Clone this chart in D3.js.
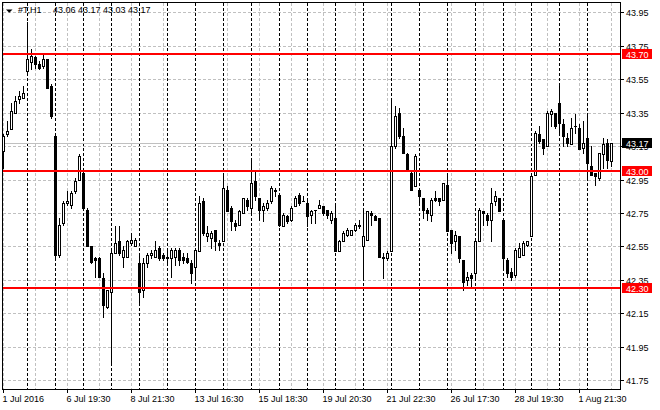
<!DOCTYPE html>
<html><head><meta charset="utf-8">
<script src="https://cdn.jsdelivr.net/npm/d3@7"></script>
<style>html,body{margin:0;padding:0;background:#fff;overflow:hidden}</style>
</head><body>
<svg id="c" width="660" height="410" xmlns="http://www.w3.org/2000/svg"></svg>
<script>
const symbol = "#T,H1";
const days = ["1 Jul","5 Jul","6 Jul","7 Jul","8 Jul","11 Jul","12 Jul","13 Jul","14 Jul","15 Jul","18 Jul","19 Jul","20 Jul","21 Jul","22 Jul","25 Jul","26 Jul","27 Jul","28 Jul","29 Jul","1 Aug","2 Aug"];
const hours = ["16:30","17:30","18:30","19:30","20:30","21:30","22:30"];
const open = [43.08,43.12,43.22,43.25,43.35,43.43,43.44,43.60,43.65,43.68,43.64,43.63,43.67,43.51,43.21,42.50,42.69,42.81,42.80,42.88,42.95,42.99,42.77,42.55,42.48,42.48,42.36,42.19,42.28,42.51,42.58,42.49,42.49,42.57,42.55,42.45,42.29,42.45,42.50,42.49,42.54,42.50,42.48,42.48,42.49,42.53,42.49,42.48,42.45,42.43,42.52,42.82,42.61,42.60,42.65,42.57,42.58,42.89,42.78,42.69,42.68,42.75,42.83,42.78,42.94,42.84,42.77,42.78,42.82,42.88,42.86,42.67,42.73,42.71,42.79,42.86,42.82,42.81,42.74,42.77,42.78,42.79,42.77,42.71,42.72,42.52,42.58,42.62,42.62,42.65,42.67,42.55,42.59,42.75,42.73,42.72,42.48,42.48,42.52,43.15,43.35,43.21,43.10,42.99,42.91,42.89,42.84,42.77,42.74,42.84,42.84,42.83,42.92,42.65,42.58,42.61,42.47,42.35,42.38,42.39,42.58,42.76,42.74,42.71,42.82,42.84,42.71,42.47,42.40,42.38,42.49,42.50,42.56,42.61,42.98,43.22,43.19,43.15,43.34,43.35,43.41,43.28,43.20,43.16,43.27,43.26,43.14,43.20,43.03,42.99,42.96,43.10,43.17,43.06];
const high = [43.14,43.22,43.30,43.41,43.45,43.48,43.51,43.89,43.73,43.69,43.66,43.70,43.67,43.52,43.21,42.72,42.82,42.88,42.88,42.96,43.10,43.00,42.78,42.55,42.49,42.49,42.39,42.29,42.53,42.67,42.67,42.55,42.59,42.63,42.60,42.50,42.48,42.51,42.53,42.58,42.55,42.51,42.52,42.54,42.54,42.54,42.51,42.51,42.47,42.54,42.85,42.84,42.67,42.64,42.65,42.59,42.97,42.91,42.79,42.71,42.77,42.84,42.84,43.08,43.00,42.84,42.81,42.83,42.91,42.90,42.87,42.75,42.74,42.79,42.85,42.87,42.85,42.82,42.77,42.77,42.83,42.79,42.77,42.76,42.80,42.59,42.64,42.66,42.65,42.69,42.71,42.77,42.76,42.76,42.74,42.72,42.51,42.52,43.44,43.39,43.38,43.26,43.11,43.00,43.10,42.89,42.84,42.78,42.84,42.88,42.84,42.93,42.97,42.65,42.64,42.61,42.47,42.40,42.39,42.58,42.78,42.76,42.75,42.90,42.88,42.84,42.72,42.48,42.42,42.54,42.57,42.58,42.58,42.97,43.24,43.27,43.19,43.36,43.37,43.35,43.51,43.31,43.23,43.32,43.34,43.28,43.30,43.33,43.15,42.99,43.11,43.20,43.19,43.17];
const low = [43.02,43.02,43.21,43.25,43.35,43.41,43.44,43.58,43.61,43.62,43.61,43.62,43.50,43.32,42.49,42.49,42.68,42.80,42.78,42.87,42.95,42.77,42.55,42.45,42.37,42.37,42.13,42.18,41.84,42.51,42.50,42.43,42.49,42.56,42.55,42.20,42.25,42.43,42.48,42.49,42.47,42.47,42.45,42.37,42.44,42.44,42.45,42.45,42.33,42.35,42.52,42.62,42.58,42.54,42.53,42.53,42.58,42.76,42.65,42.65,42.68,42.75,42.77,42.75,42.83,42.71,42.70,42.77,42.81,42.85,42.67,42.67,42.69,42.70,42.79,42.80,42.82,42.67,42.69,42.69,42.78,42.74,42.72,42.69,42.52,42.52,42.58,42.61,42.62,42.64,42.66,42.35,42.59,42.68,42.71,42.49,42.36,42.47,42.52,43.14,43.20,43.11,43.00,42.89,42.91,42.80,42.72,42.71,42.70,42.82,42.80,42.83,42.64,42.51,42.53,42.46,42.29,42.32,42.30,42.36,42.58,42.68,42.68,42.58,42.80,42.76,42.42,42.37,42.35,42.37,42.49,42.50,42.55,42.61,42.98,43.17,43.10,43.15,43.27,43.26,43.23,43.15,43.15,43.16,43.23,43.13,43.11,42.95,42.98,42.92,42.95,43.02,43.02,43.03];
const close = [43.12,43.21,43.24,43.36,43.42,43.45,43.47,43.67,43.69,43.64,43.62,43.67,43.50,43.33,42.50,42.68,42.81,42.82,42.87,42.94,43.09,42.78,42.55,42.46,42.47,42.37,42.20,42.29,42.51,42.57,42.51,42.53,42.58,42.59,42.59,42.28,42.45,42.50,42.51,42.53,42.48,42.48,42.49,42.53,42.53,42.47,42.47,42.46,42.39,42.53,42.81,42.63,42.63,42.63,42.58,42.56,42.90,42.76,42.70,42.67,42.76,42.84,42.79,42.93,42.85,42.77,42.79,42.81,42.90,42.89,42.68,42.74,42.70,42.78,42.84,42.81,42.82,42.73,42.76,42.77,42.80,42.75,42.74,42.75,42.52,42.58,42.63,42.65,42.65,42.68,42.68,42.61,42.76,42.74,42.71,42.49,42.49,42.51,43.15,43.33,43.21,43.11,43.01,42.89,43.09,42.85,42.77,42.75,42.83,42.83,42.82,42.93,42.64,42.57,42.62,42.48,42.34,42.37,42.36,42.58,42.77,42.75,42.71,42.81,42.85,42.76,42.48,42.39,42.37,42.53,42.54,42.57,42.58,42.97,43.23,43.18,43.14,43.35,43.36,43.27,43.29,43.21,43.17,43.26,43.27,43.13,43.17,43.05,42.98,42.97,43.11,43.16,43.07,43.17];
const yTicks = [43.95,43.75,43.55,43.35,43.15,42.95,42.75,42.55,42.35,42.15,41.95,41.75];
const levels = [43.70,43.00,42.30];
const bid = 43.17;
const xLabelIdx = [1,17,33,49,65,81,97,113,129,145];
const xLabels = ["1 Jul 2016","6 Jul 19:30","8 Jul 21:30","13 Jul 16:30","15 Jul 18:30","19 Jul 20:30","21 Jul 22:30","26 Jul 17:30","28 Jul 19:30","1 Aug 21:30"];

const times = [];
days.forEach(d => hours.forEach(h => times.push(d + " " + h)));
const bars = open.map((o, i) => ({i, t: times[i], o, h: high[i], l: low[i], c: close[i]}));

const FONT = "'Liberation Sans', Arial, sans-serif";
const L = 3, T = 3, R = 620, B = 389;
const svg = d3.select("#c");
svg.append("rect").attr("width", 660).attr("height", 410).attr("fill", "#fff");

const x = d3.scaleLinear().domain([0, bars.length - 1]).range([-0.5, 4 * (bars.length - 1) - 0.5]);
const y = d3.scaleLinear().domain([41.75, 43.95]).range([380.3, 12.3]);
const col = i => Math.floor(x(i));
const ry = v => Math.round(y(v));

svg.append("clipPath").attr("id", "pc").append("rect")
  .attr("x", L).attr("y", T).attr("width", R - L).attr("height", B - T);
const g = svg.append("g").attr("clip-path", "url(#pc)");

// horizontal grid
g.selectAll("line.hg").data(yTicks).enter().append("line")
  .attr("x1", L).attr("x2", R).attr("y1", d => ry(d) + 0.5).attr("y2", d => ry(d) + 0.5)
  .attr("stroke", "#c0c0c0").attr("stroke-dasharray", "3,2");
// vertical grid (every 8 bars)
const vIdx = d3.range(1, bars.length, 8);
g.selectAll("line.vg").data(vIdx).enter().append("line")
  .attr("x1", d => col(d) + 0.5).attr("x2", d => col(d) + 0.5).attr("y1", T).attr("y2", B)
  .attr("stroke", "#c0c0c0").attr("stroke-dasharray", "3,2");
// day separators
const sepIdx = d3.range(7, bars.length, 7);
g.selectAll("line.sep").data(sepIdx).enter().append("line")
  .attr("x1", d => col(d) + 0.5).attr("x2", d => col(d) + 0.5).attr("y1", T).attr("y2", B)
  .attr("stroke", "#000").attr("stroke-dasharray", "3,2");
// bid line
g.append("line").attr("x1", L).attr("x2", R).attr("y1", ry(bid) + 0.5).attr("y2", ry(bid) + 0.5)
  .attr("stroke", "#c0c0c0");

// candles
const cg = g.append("g");
bars.forEach(b => {
  const px = col(b.i);
  const yh = ry(b.h), yl = ry(b.l);
  cg.append("rect").attr("x", px).attr("y", yh).attr("width", 1).attr("height", yl - yh + 1).attr("fill", "#000");
  const yt = ry(Math.max(b.o, b.c)), yb = ry(Math.min(b.o, b.c));
  if (b.c > b.o && yb - yt >= 2) {
    cg.append("rect").attr("x", px - 0.5).attr("y", yt + 0.5).attr("width", 2).attr("height", yb - yt)
      .attr("fill", "#fff").attr("stroke", "#000").attr("stroke-width", 1);
  } else {
    cg.append("rect").attr("x", px - 1).attr("y", yt).attr("width", 3).attr("height", Math.max(1, yb - yt + 1))
      .attr("fill", "#000");
  }
});

// horizontal level lines
g.selectAll("line.lvl").data(levels).enter().append("line")
  .attr("x1", L).attr("x2", R).attr("y1", d => ry(d)).attr("y2", d => ry(d))
  .attr("stroke", "#ff0000").attr("stroke-width", 2);

// frame
svg.append("rect").attr("x", 2.5).attr("y", 2.5).attr("width", R - 2).attr("height", B - 2)
  .attr("fill", "none").attr("stroke", "#000");

// y axis
const ya = svg.append("g");
yTicks.forEach(v => {
  ya.append("line").attr("x1", R).attr("x2", R + 4).attr("y1", ry(v) + 0.5).attr("y2", ry(v) + 0.5).attr("stroke", "#000");
  ya.append("text").attr("x", R + 6).attr("y", ry(v) + 3.5).text(v.toFixed(2))
    .attr("font-family", FONT).attr("font-size", "9px").attr("fill", "#000");
});
// price boxes
const boxes = levels.map(v => ({v, fill: "#ff0000"})).concat([{v: bid, fill: "#000"}]);
boxes.forEach(bx => {
  const yc = ry(bx.v);
  ya.append("rect").attr("x", R + 2).attr("y", yc - 5).attr("width", 30).attr("height", 10).attr("fill", bx.fill);
  ya.append("text").attr("x", R + 6).attr("y", yc + 3.5).text(bx.v.toFixed(2))
    .attr("font-family", FONT).attr("font-size", "9px").attr("fill", "#fff");
});

// x axis
const xa = svg.append("g");
xLabelIdx.forEach((idx, k) => {
  const px = col(idx) + 0.5;
  xa.append("line").attr("x1", px).attr("x2", px).attr("y1", B).attr("y2", B + 4).attr("stroke", "#000");
  xa.append("text").attr("x", px - 1).attr("y", 401.5).text(xLabels[k])
    .attr("font-family", FONT).attr("font-size", "9px").attr("fill", "#000");
});

// title
const last = bars[bars.length - 1];
svg.append("path").attr("d", "M6,9.5 L12.5,9.5 L9.25,12.7 Z").attr("fill", "#000");
svg.append("text").attr("x", 18).attr("y", 13).text(symbol)
  .attr("font-family", FONT).attr("font-size", "9px").attr("fill", "#000");
svg.append("text").attr("x", 53).attr("y", 13)
  .text([last.o, last.h, last.l, last.c].map(v => v.toFixed(2)).join(" "))
  .attr("font-family", FONT).attr("font-size", "9px").attr("fill", "#000");
</script>
</body></html>
